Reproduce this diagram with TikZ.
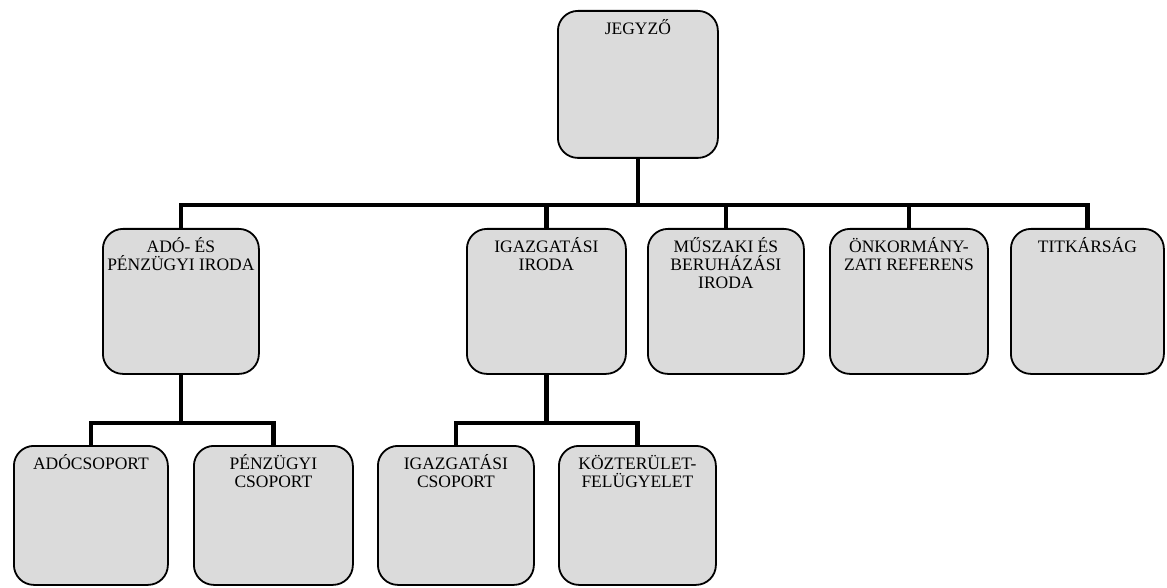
\documentclass[tikz,border=0pt]{standalone}
\usepackage{fontspec}
\setmainfont{Liberation Serif}
% box text: fixed-size parbox, lines centred from the top edge
\newcommand{\unitlabel}[3]{\parbox[c][#2][t]{#1}{\centering\rule{0pt}{24pt}#3\par}}
\begin{document}
\begin{tikzpicture}[x=1pt,y=-1pt,
  unit/.style={draw=black, line width=1.8pt, rounded corners=20pt, fill=black!14,
    inner sep=0pt, anchor=north west, font=\fontsize{17.5pt}{18pt}\selectfont},
  conn/.style={line width=4.5pt, line join=miter}]
\useasboundingbox (0,0) rectangle (1167,588);

% top level
\node[unit] (jegyzo) at (557,10)  {\unitlabel{160pt}{147pt}{JEGYZŐ}};

% offices
\node[unit] (ado)  at (102,228)  {\unitlabel{156pt}{145pt}{ADÓ- ÉS\\PÉNZÜGYI IRODA}};
\node[unit] (igaz) at (466,228)  {\unitlabel{159pt}{145pt}{IGAZGATÁSI\\IRODA}};
\node[unit] (musz) at (647,228)  {\unitlabel{156pt}{145pt}{MŰSZAKI ÉS\\BERUHÁZÁSI\\IRODA}};
\node[unit] (onk)  at (829,228)  {\unitlabel{158pt}{145pt}{ÖNKORMÁNY-\\ZATI REFERENS}};
\node[unit] (titk) at (1010,228) {\unitlabel{153pt}{145pt}{TITKÁRSÁG}};

% groups
\node[unit] (adocs) at (13,445)  {\unitlabel{154pt}{139pt}{ADÓCSOPORT}};
\node[unit] (penz)  at (193,445) {\unitlabel{159pt}{139pt}{PÉNZÜGYI\\CSOPORT}};
\node[unit] (igcs)  at (377,445) {\unitlabel{156pt}{139pt}{IGAZGATÁSI\\CSOPORT}};
\node[unit] (kozt)  at (558,445) {\unitlabel{157pt}{139pt}{KÖZTERÜLET-\\FELÜGYELET}};

% connectors: top level to offices
\path (jegyzo.south) ++(0,46) coordinate (bus);
\draw[conn] (jegyzo.south) -- (bus);
\draw[conn] (ado.north) |- (bus) -| (titk.north);
\foreach \n in {igaz,musz,onk} \draw[conn] (\n.north) -- (\n.north |- bus);

% connectors: offices to groups
\path (ado.south) ++(0,48) coordinate (busA);
\draw[conn] (ado.south) -- (busA);
\draw[conn] (adocs.north) |- (busA) -| (penz.north);

\path (igaz.south) ++(0,48) coordinate (busB);
\draw[conn] (igaz.south) -- (busB);
\draw[conn] (igcs.north) |- (busB) -| (kozt.north);
\end{tikzpicture}
\end{document}
